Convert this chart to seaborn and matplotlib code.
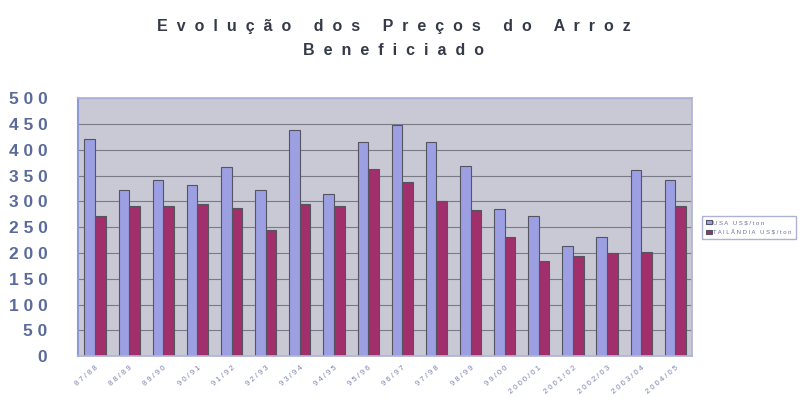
import pandas as pd
import seaborn as sns
import matplotlib.pyplot as plt

safras = ['87/88', '88/89', '89/90', '90/91', '91/92', '92/93', '93/94', '94/95', '95/96',
          '96/97', '97/98', '98/99', '99/00', '2000/01', '2001/02', '2002/03', '2003/04', '2004/05']
usa = [421, 322, 342, 331, 367, 322, 439, 314, 416, 449, 415, 368, 285, 272, 214, 231, 361, 342]
tailandia = [272, 292, 292, 296, 287, 245, 295, 292, 362, 337, 301, 284, 231, 185, 194, 200, 203, 292]
series = ['USA US$/ton', 'TAILÂNDIA US$/ton']

def espacar(s, sep=' '):
    # espaçamento entre letras, como no gráfico original
    return (sep + ' ' + sep).join(sep.join(w) for w in s.split(' '))

df = pd.DataFrame({'safra': safras * 2,
                   'preco': usa + tailandia,
                   'serie': [series[0]] * len(safras) + [series[1]] * len(safras)})

sns.set_theme(style='white')
plt.rcParams['font.family'] = ['Liberation Sans', 'DejaVu Sans']

fig = plt.figure(figsize=(8, 3.98), dpi=100)
ax = fig.add_axes([0.0975, 0.105, 0.768, 0.648])
ax.set_facecolor('#c9c9d6')

sns.barplot(data=df, x='safra', y='preco', hue='serie', ax=ax,
            palette=['#9ca0e2', '#a02f6b'], width=0.62, dodge=True,
            edgecolor='#55555f', linewidth=0.8, saturation=1, legend=True)

ax.set_ylim(0, 500)
ax.set_xlim(-0.5, len(safras) - 0.5)
ax.set_yticks(range(0, 501, 50))
ax.yaxis.grid(True, color='#7a7a88', linewidth=0.8)
ax.set_axisbelow(True)
ax.set_yticklabels([espacar(str(v)) for v in range(0, 501, 50)],
                   fontsize=12.5, fontweight='bold', color='#5a6a9a')
ax.set_xticks(range(len(safras)))
ax.set_xticklabels([espacar(s) for s in safras], rotation=40, ha='right',
                   fontsize=5.5, color='#7a80b0', rotation_mode='anchor')
ax.tick_params(axis='y', length=4, color='#8890c0', pad=18)
ax.tick_params(axis='x', length=3, color='#8890c0', pad=3)
ax.set_xlabel('')
ax.set_ylabel('')
for s in ['top', 'right', 'bottom']:
    ax.spines[s].set_color('#b0b4d8')
ax.spines['left'].set_color('#8c9ad8')
ax.spines['left'].set_linewidth(1.5)

leg = ax.legend(loc='center left', bbox_to_anchor=(1.01, 0.5), fontsize=4.3,
                frameon=True, fancybox=False, edgecolor='#9aa0c8',
                handlelength=1.0, handleheight=0.7, handletextpad=0.3,
                borderpad=0.7, labelspacing=0.7)
for t in leg.get_texts():
    t.set_color('#6a70a0')
    t.set_text(espacar(t.get_text()))

fig.text(0.492, 0.934, espacar('Evolução dos Preços do Arroz', '  '), ha='center', va='center',
         fontsize=11.5, fontweight='bold', color='#353a48')
fig.text(0.492, 0.874, espacar('Beneficiado', '  '), ha='center', va='center',
         fontsize=11.5, fontweight='bold', color='#353a48')

fig.savefig('out.png', dpi=100)
